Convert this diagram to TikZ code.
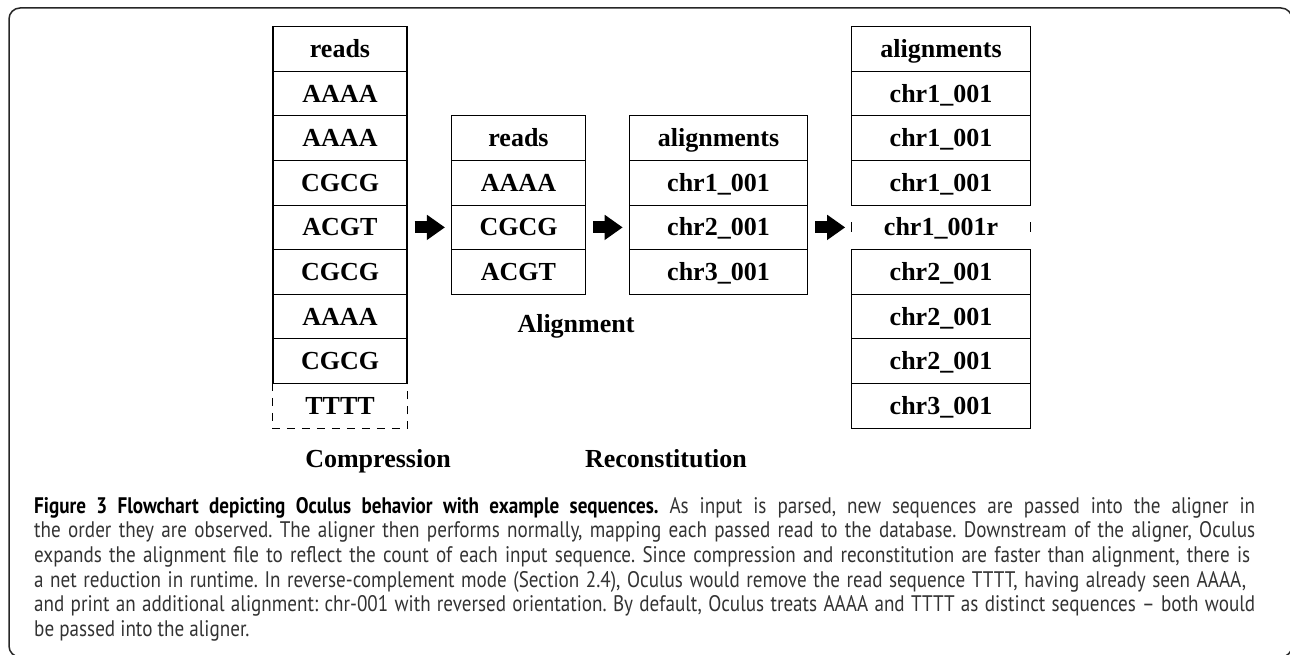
\documentclass[tikz,border=0pt]{standalone}
\usepackage{fontspec}
\setmainfont{Liberation Serif}
\newfontfamily\capfont[FakeStretch=0.85,Ligatures=TeX]{PT Sans}
\usetikzlibrary{arrows.meta}
\definecolor{framegray}{rgb}{0.15,0.15,0.15}
\definecolor{captext}{rgb}{0.2,0.2,0.2}
\frenchspacing
\tikzset{
  cell/.style={draw, inner sep=0pt, minimum height=44.6pt, text height=17.2pt, text depth=0pt,
    font=\fontsize{26}{26}\selectfont\bfseries, line width=1.1pt},
  narrow/.style={cell, minimum width=134pt},
  wide/.style={cell, minimum width=178.5pt},
  dashside/.style={line width=1.1pt, dash pattern=on 8pt off 7pt},
  gapside/.style={line width=1.1pt, dash pattern=on 10pt off 35pt, dash phase=27.5pt},
  blockarrow/.style={line width=12pt, -{Triangle[length=18pt,width=24pt]}, shorten <=7pt, shorten >=6pt},
  steplabel/.style={anchor=base, font=\fontsize{26}{26}\selectfont\bfseries},
  capline/.style={anchor=base west, inner sep=0pt, text=captext, font=\capfont\fontsize{22.5}{24}\selectfont\frenchspacing}
}

\begin{document}
\begin{tikzpicture}[x=1pt,y=-1pt,line join=miter]
\useasboundingbox (0,0) rectangle (1290,655);
% frame round the figure
\draw[framegray,line width=1.5pt,rounded corners=11pt] (9,8) rectangle (1292,657);

% input reads
\node[narrow] (r0) at (340,49.0) {reads};
\node[narrow] (r1) at (340,93.6) {AAAA};
\node[narrow] (r2) at (340,138.2) {AAAA};
\node[narrow] (r3) at (340,182.8) {CGCG};
\node[narrow] (r4) at (340,227.4) {ACGT};
\node[narrow] (r5) at (340,272.0) {CGCG};
\node[narrow] (r6) at (340,316.6) {AAAA};
\node[narrow] (r7) at (340,361.2) {CGCG};
\node[narrow,draw=none] (r8) at (340,405.8) {TTTT};
\draw[dashside] (r8.north west) -- (r8.south west) -- (r8.south east) -- (r8.north east);

% unique reads
\node[narrow] (u0) at (518.5,138.2) {reads};
\node[narrow] (u1) at (518.5,182.8) {AAAA};
\node[narrow] (u2) at (518.5,227.4) {CGCG};
\node[narrow] (u3) at (518.5,272.0) {ACGT};

% aligner output
\node[wide] (a0) at (718.5,138.2) {alignments};
\node[wide] (a1) at (718.5,182.8) {chr1\_001};
\node[wide] (a2) at (718.5,227.4) {chr2\_001};
\node[wide] (a3) at (718.5,272.0) {chr3\_001};

% expanded alignments
\node[wide] (f0) at (941,49.0) {alignments};
\node[wide] (f1) at (941,93.6) {chr1\_001};
\node[wide] (f2) at (941,138.2) {chr1\_001};
\node[wide] (f3) at (941,182.8) {chr1\_001};
\node[wide,draw=none] (f4) at (941,227.4) {chr1\_001r};
\draw[gapside] (f4.north west) -- (f4.south west);
\draw[gapside] (f4.north east) -- (f4.south east);
\node[wide] (f5) at (941,272.0) {chr2\_001};
\node[wide] (f6) at (941,316.6) {chr2\_001};
\node[wide] (f7) at (941,361.2) {chr2\_001};
\node[wide] (f8) at (941,405.8) {chr3\_001};

\draw[blockarrow] (r4.east) -- (u2.west);
\draw[blockarrow] (u2.east) -- (a2.west);
\draw[blockarrow] (a2.east) -- (f4.west);

\node[steplabel] (lalign) at (576,332) {Alignment};
\node[steplabel] (lcomp) at (378,467) {Compression};
\node[steplabel] (lrecon) at (666,467) {Reconstitution};

% caption
\node[capline] (cap1) at (34,513) {\makebox[1221pt][s]{{\bfseries\color{black}Figure 3 Flowchart depicting Oculus behavior with example sequences.} As input is parsed, new sequences are passed into the aligner in}};
\node[capline] (cap2) at (34,537.7) {\makebox[1221pt][s]{the order they are observed. The aligner then performs normally, mapping each passed read to the database. Downstream of the aligner, Oculus}};
\node[capline] (cap3) at (34,562.4) {\makebox[1216pt][s]{expands the alignment file to reflect the count of each input sequence. Since compression and reconstitution are faster than alignment, there is}};
\node[capline] (cap4) at (34,587.1) {\makebox[1212pt][s]{a net reduction in runtime. In reverse-complement mode (Section 2.4), Oculus would remove the read sequence TTTT, having already seen AAAA,}};
\node[capline] (cap5) at (34,611.8) {\makebox[1221pt][s]{and print an additional alignment: chr-001 with reversed orientation. By default, Oculus treats AAAA and TTTT as distinct sequences – both would}};
\node[capline] (cap6) at (34,636.5) {be passed into the aligner.};
\end{tikzpicture}
\end{document}
